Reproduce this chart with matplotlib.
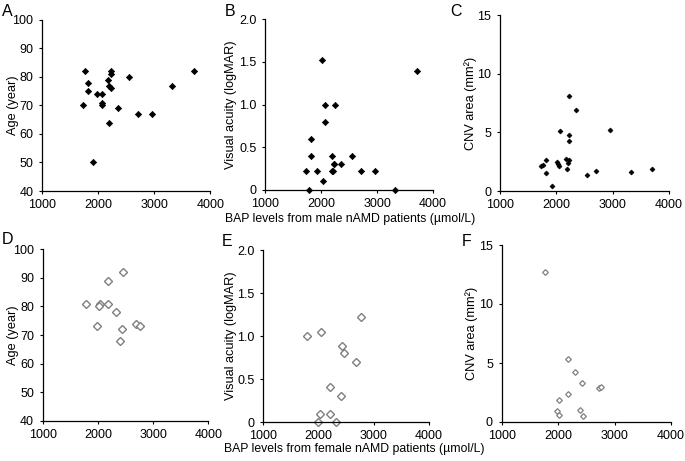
import matplotlib
matplotlib.use('Agg')
from matplotlib import pyplot as plt

plt.rcParams['font.family'] = ['Liberation Sans', 'DejaVu Sans']

# male nAMD patients
male_bap_age = [1762, 1810, 1810, 1721, 1982, 2060, 2060, 2060, 2179, 2221, 2221,
                2197, 2221, 2554, 2346, 2714, 2953, 3321, 3703, 2191, 1911]
male_age = [82, 78, 75, 70, 74, 74, 71, 70, 79, 82, 81,
            77, 76, 80, 69, 67, 67, 77, 82, 64, 50]

male_bap_va = [2018, 3712, 2066, 2243, 2066, 1817, 1817, 2202, 2551, 1728, 1936,
               2190, 2215, 2226, 2362, 2717, 2972, 2036, 1781, 3321, 2240]
male_va = [1.52, 1.40, 1.0, 1.0, 0.8, 0.6, 0.4, 0.4, 0.4, 0.22, 0.22,
           0.22, 0.22, 0.3, 0.3, 0.22, 0.22, 0.1, 0, 0, 0.3]

male_bap_cnv = [2218, 2353, 2064, 2218, 2218, 2953, 1817, 1723, 1759, 1817, 1929,
                2012, 2035, 2047, 2176, 2218, 2206, 2194, 2541, 2706, 3323, 3703]
male_cnv = [8.1, 6.9, 5.1, 4.8, 4.3, 5.2, 2.6, 2.1, 2.2, 1.5, 0.4,
            2.5, 2.3, 2.1, 2.7, 2.6, 2.4, 1.9, 1.4, 1.7, 1.6, 1.9]

# female nAMD patients
female_bap_age = [1784, 2038, 2026, 1978, 2189, 2189, 2460, 2322, 2431, 2400, 2690, 2763]
female_age = [81, 81, 80, 73, 89, 81, 92, 78, 72, 68, 74, 73]

female_bap_va = [1786, 2045, 2764, 2431, 2462, 2679, 2204, 2402, 2027, 2204, 1985, 2311]
female_va = [1.0, 1.05, 1.22, 0.89, 0.8, 0.7, 0.41, 0.3, 0.1, 0.1, 0, 0]

female_bap_cnv = [1774, 2175, 2305, 2423, 2718, 2754, 2175, 2010, 1974, 2022, 2388, 2447]
female_cnv = [12.7, 5.3, 4.2, 3.3, 2.9, 3.0, 2.4, 1.9, 0.9, 0.6, 1.0, 0.5]

x_ticks = [1000, 2000, 3000, 4000]
age_ticks = [40, 50, 60, 70, 80, 90, 100]
va_ticks = [0, 0.5, 1.0, 1.5, 2.0]
va_labels = ['0', '0.5', '1.0', '1.5', '2.0']
cnv_ticks = [0, 5, 10, 15]

W, H = 685, 461
fig = plt.figure(figsize=(W / 100, H / 100), dpi=100)


def make_ax(left, right, top, bottom):
    return fig.add_axes([left / W, 1 - bottom / H, (right - left) / W, (bottom - top) / H])


def style(ax, yticks, ylim, ylabel, label_x, ylabels=None):
    ax.set_xlim(1000, 4000)
    ax.set_ylim(*ylim)
    ax.set_xticks(x_ticks)
    ax.set_yticks(yticks)
    if ylabels is not None:
        ax.set_yticklabels(ylabels)
    for s in ['top', 'right']:
        ax.spines[s].set_visible(False)
    for s in ['left', 'bottom']:
        ax.spines[s].set_linewidth(0.9)
    ax.tick_params(direction='out', length=2.3, width=0.8, labelsize=9, pad=4)
    ax.tick_params(axis='x', pad=3.5)
    ax.set_ylabel(ylabel, fontsize=9.2)
    # label_x is the right edge of the rotated label, in figure pixels
    x0 = ax.get_position().x0 * W
    w = ax.get_position().width * W
    ax.yaxis.set_label_coords((label_x - x0) / w, 0.5)


male_kw = dict(marker='D', linestyle='none', color='black', ms=3.2, mew=0.5, clip_on=False)
female_kw = dict(marker='D', linestyle='none', mfc='white', mec='#7f7f7f', ms=3.7, mew=1.0, clip_on=False)

axA = make_ax(42.3, 210.3, 20, 191)
axA.plot(male_bap_age, male_age, **male_kw)
style(axA, age_ticks, (40, 100), 'Age (year)', 19)

axB = make_ax(265, 433, 19.3, 190)
axB.plot(male_bap_va, male_va, **male_kw)
style(axB, va_ticks, (0, 2.0), 'Visual acuity (logMAR)', 237, va_labels)

axC = make_ax(500, 669, 15, 191)
axC.plot(male_bap_cnv, male_cnv, **dict(male_kw, ms=2.5))
style(axC, cnv_ticks, (0, 15), 'CNV area (mm²)', 477)

axD = make_ax(42.7, 208.3, 249.3, 420.7)
axD.plot(female_bap_age, female_age, **female_kw)
style(axD, age_ticks, (40, 100), 'Age (year)', 19)

axE = make_ax(263.3, 429, 250, 422.3)
axE.plot(female_bap_va, female_va, **female_kw)
style(axE, va_ticks, (0, 2.0), 'Visual acuity (logMAR)', 237, va_labels)

axF = make_ax(501.7, 671, 245, 422)
axF.plot(female_bap_cnv, female_cnv, **dict(female_kw, ms=2.9, mew=0.9))
style(axF, cnv_ticks, (0, 15), 'CNV area (mm²)', 478)

fig.text(350 / W, 1 - 219 / H, 'BAP levels from male nAMD patients (µmol/L)',
         fontsize=8.8, ha='center', va='center')
fig.text(354 / W, 1 - 449 / H, 'BAP levels from female nAMD patients (µmol/L)',
         fontsize=8.8, ha='center', va='center')

for letter, x, y in [('A', 2, 4), ('B', 225, 4), ('C', 450, 4),
                     ('D', 2, 232), ('E', 222, 234), ('F', 462, 234)]:
    fig.text(x / W, 1 - y / H, letter, fontsize=11.5, ha='left', va='top')

fig.savefig('out.png', dpi=100)
